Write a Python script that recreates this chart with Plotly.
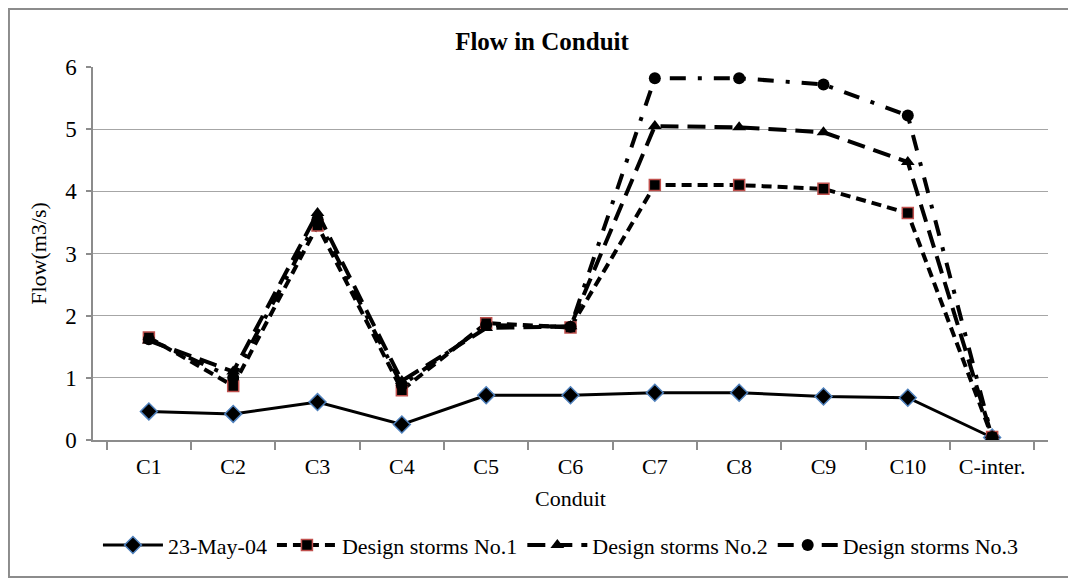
import plotly.graph_objects as go

categories = ["C1", "C2", "C3", "C4", "C5", "C6", "C7", "C8", "C9", "C10", "C-inter."]
may_23_04 = [0.46, 0.42, 0.61, 0.25, 0.72, 0.72, 0.76, 0.76, 0.70, 0.68, 0.04]
storm_1 = [1.65, 0.87, 3.45, 0.80, 1.88, 1.81, 4.10, 4.10, 4.04, 3.65, 0.05]
storm_2 = [1.60, 1.10, 3.65, 0.95, 1.80, 1.83, 5.05, 5.03, 4.95, 4.47, 0.05]
storm_3 = [1.62, 1.00, 3.55, 0.88, 1.85, 1.82, 5.82, 5.82, 5.72, 5.22, 0.05]
y_ticks = [0, 1, 2, 3, 4, 5, 6]

FONT = "Liberation Serif, Times New Roman, serif"

fig = go.Figure()
fig.add_trace(go.Scatter(
    x=categories, y=may_23_04, name="23-May-04", mode="lines+markers",
    line=dict(color="black", width=3),
    marker=dict(symbol="diamond", size=13, color="black", line=dict(color="#4F81BD", width=1.5)),
))
fig.add_trace(go.Scatter(
    x=categories, y=storm_1, name="Design storms No.1", mode="lines+markers",
    line=dict(color="black", width=4, dash="10px,6px"),
    marker=dict(symbol="square", size=11, color="black", line=dict(color="#C0504D", width=1.5)),
))
fig.add_trace(go.Scatter(
    x=categories, y=storm_2, name="Design storms No.2", mode="lines+markers",
    line=dict(color="black", width=4, dash="18px,9px"),
    marker=dict(symbol="triangle-up", size=12, color="black"),
))
fig.add_trace(go.Scatter(
    x=categories, y=storm_3, name="Design storms No.3", mode="lines+markers",
    line=dict(color="black", width=4, dash="16px,12px,4px,12px"),
    marker=dict(symbol="circle", size=12, color="black"),
))

fig.update_layout(
    width=1068, height=573,
    paper_bgcolor="white", plot_bgcolor="white",
    margin=dict(l=85, r=28, t=59, b=141, autoexpand=False),
    font=dict(family=FONT, color="black", size=22),
    title=dict(text="<b>Flow in Conduit</b>", x=0.5, xanchor="center", y=0.942, yanchor="middle",
               font=dict(family=FONT, size=25, color="black")),
    xaxis=dict(
        type="category", categoryorder="array", categoryarray=categories,
        showline=True, linecolor="#8C8C8C", linewidth=1.5,
        ticks="outside", tickson="boundaries", ticklen=8, tickcolor="#8C8C8C", tickwidth=1.5,
        showgrid=False, tickfont=dict(size=22), ticklabelstandoff=6,
        title=dict(text="Conduit", font=dict(size=22), standoff=12),
    ),
    yaxis=dict(
        range=[0, 6], tickvals=y_ticks, showline=True, linecolor="#8C8C8C", linewidth=1.5,
        ticks="outside", ticklen=5, tickcolor="#8C8C8C", tickwidth=1.5,
        showgrid=True, gridcolor="#A6A6A6", gridwidth=1.2, zeroline=False,
        tickfont=dict(size=23), ticklabelstandoff=5,
        title=dict(text="Flow(m3/s)", font=dict(size=22), standoff=12),
    ),
    legend=dict(orientation="h", x=0.49, xanchor="center", y=-0.282, yanchor="middle",
                font=dict(size=22), itemwidth=60, traceorder="normal"),
    shapes=[dict(type="rect", xref="paper", yref="paper",
                 x0=-0.088, x1=1.023, y0=-0.367, y1=1.1555,
                 line=dict(color="#8C8C8C", width=2), layer="below")],
)

fig.write_html("out.html")
